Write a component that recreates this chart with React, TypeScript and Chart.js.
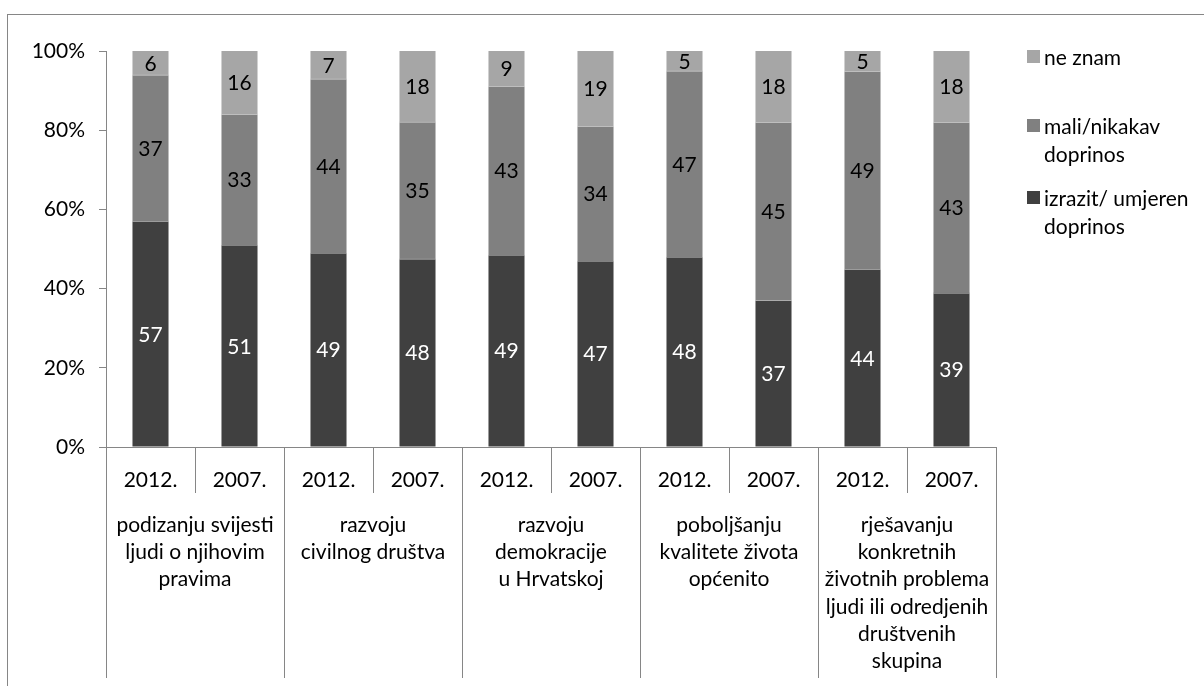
import React, { useEffect, useRef } from "react";
import { Chart, registerables } from "chart.js";

Chart.register(...registerables);

const years = ["2012.", "2007.", "2012.", "2007.", "2012.", "2007.", "2012.", "2007.", "2012.", "2007."];
const groupLabels: string[][] = [
  ["podizanju svijesti", "ljudi o njihovim", "pravima"],
  ["razvoju", "civilnog društva"],
  ["razvoju", "demokracije", "u Hrvatskoj"],
  ["poboljšanju", "kvalitete života", "općenito"],
  ["rješavanju", "konkretnih", "životnih problema", "ljudi ili odredjenih", "društvenih", "skupina"],
];
const izrazit = [57, 51, 49, 48, 49, 47, 48, 37, 44, 39];
const mali = [37, 33, 44, 35, 43, 34, 47, 45, 49, 43];
const neZnam = [6, 16, 7, 18, 9, 19, 5, 18, 5, 18];
const yTicks = ["0%", "20%", "40%", "60%", "80%", "100%"];

const seriesNames = ["izrazit/ umjeren|doprinos", "mali/nikakav|doprinos", "ne znam"];
const seriesColors = ["#404040", "#808080", "#a6a6a6"];
const labelColors = ["#ffffff", "#000000", "#000000"];

const FONT = "Lato, 'Open Sans', sans-serif";
const AXIS = "#868686";

export default function App() {
  const ref = useRef<HTMLCanvasElement | null>(null);
  useEffect(() => {
    const canvas = ref.current!;
    const raw = [izrazit, mali, neZnam];
    const totals = izrazit.map((v, i) => v + mali[i] + neZnam[i]);
    const datasets = raw.map((arr, di) => ({
      label: seriesNames[di],
      data: arr.map((v, i) => (v / totals[i]) * 100),
      backgroundColor: seriesColors[di],
      borderWidth: 0,
      barPercentage: 0.405,
      categoryPercentage: 1,
    }));

    const plugin = {
      id: "custom",
      beforeDraw(chart: any) {
        const ctx = chart.ctx;
        ctx.save();
        ctx.fillStyle = "#ffffff";
        ctx.fillRect(0, 0, chart.width, chart.height);
        ctx.strokeStyle = AXIS;
        ctx.lineWidth = 1;
        ctx.strokeRect(7.5, 14.5, 1400, 1000);
        ctx.restore();
      },
      afterDraw(chart: any) {
        const ctx = chart.ctx;
        const xs = chart.scales.x;
        const area = chart.chartArea;
        ctx.save();
        // thin light separators between stacked segments
        ctx.strokeStyle = "rgba(255,255,255,0.35)";
        ctx.lineWidth = 1;
        [0, 1].forEach((di) => {
          const meta = chart.getDatasetMeta(di);
          meta.data.forEach((bar: any) => {
            const p = bar.getProps(["x", "y", "width"], true);
            const yy = Math.round(p.y) + 0.5;
            ctx.beginPath();
            ctx.moveTo(p.x - p.width / 2, yy);
            ctx.lineTo(p.x + p.width / 2, yy);
            ctx.stroke();
          });
        });
        // data labels
        ctx.font = `21px ${FONT}`;
        ctx.textAlign = "center";
        ctx.textBaseline = "middle";
        chart.data.datasets.forEach((_: any, di: number) => {
          const meta = chart.getDatasetMeta(di);
          meta.data.forEach((bar: any, i: number) => {
            const p = bar.getProps(["x", "y", "base"], true);
            ctx.fillStyle = labelColors[di];
            ctx.fillText(String(raw[di][i]), p.x, (p.y + p.base) / 2 + 1);
          });
        });
        // separators
        const slot = xs.getPixelForValue(1) - xs.getPixelForValue(0);
        ctx.strokeStyle = AXIS;
        ctx.lineWidth = 1;
        for (let i = 0; i <= years.length; i++) {
          const px = Math.round(xs.getPixelForValue(0) - slot / 2 + i * slot) + 0.5;
          const bottom = i % 2 === 0 ? 678 : 493;
          ctx.beginPath();
          ctx.moveTo(px, area.bottom);
          ctx.lineTo(px, bottom);
          ctx.stroke();
        }
        // group labels
        ctx.fillStyle = "#000000";
        ctx.font = `21px ${FONT}`;
        groupLabels.forEach((lines, g) => {
          const cx = xs.getPixelForValue(0) - slot / 2 + (2 * g + 1) * slot;
          lines.forEach((line, li) => {
            ctx.fillText(line, cx, 525 + li * 27.3);
          });
        });
        // legend
        const legendItems = [2, 1, 0];
        const sqY = [50, 119, 191];
        legendItems.forEach((di, k) => {
          ctx.fillStyle = seriesColors[di];
          ctx.fillRect(1027, sqY[k], 13, 13);
          ctx.fillStyle = "#000000";
          ctx.textAlign = "left";
          const lines = seriesNames[di].split("|");
          lines.forEach((line, li) => {
            ctx.fillText(line, 1044, sqY[k] + 8 + li * 28);
          });
        });
        ctx.restore();
      },
    };

    const chart = new Chart(canvas, {
      type: "bar",
      data: { labels: years, datasets },
      options: {
        animation: false,
        responsive: false,
        devicePixelRatio: 1,
        layout: { padding: { left: 0, top: 51, right: 208, bottom: 0 } },
        plugins: { legend: { display: false }, tooltip: { enabled: false } },
        scales: {
          x: {
            stacked: true,
            grid: { display: false },
            border: { display: true, color: AXIS, width: 1 },
            ticks: { color: "#000", font: { family: FONT, size: 21 }, padding: 13, maxRotation: 0, autoSkip: false },
            afterFit: (s: any) => { s.height = 686 - 447; },
          },
          y: {
            stacked: true,
            min: 0,
            max: 100,
            grid: { drawOnChartArea: false, color: AXIS, tickLength: 7 },
            border: { display: true, color: AXIS, width: 1 },
            ticks: {
              stepSize: 20,
              color: "#000",
              font: { family: FONT, size: 21 },
              padding: 14,
              callback: (v: any) => yTicks[Math.round(Number(v) / 20)],
            },
            afterFit: (s: any) => { s.width = 106; },
          },
        },
      },
      plugins: [plugin],
    });
    return () => chart.destroy();
  }, []);
  return (
    <div style={{ position: "fixed", left: 0, top: 0, width: 1204, height: 686, background: "#fff" }}>
      <canvas ref={ref} width={1204} height={686} />
    </div>
  );
}
